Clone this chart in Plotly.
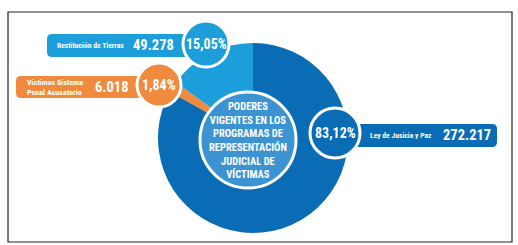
import plotly.graph_objects as go

# ---- data ----
programas = ["Ley de Jusicia y Paz", "Víctimas Sistema Penal Acusatorio", "Restitución de Tierras"]
poderes = [272217, 6018, 49278]
porcentajes = ["83,12%", "1,84%", "15,05%"]
cifras = ["272.217", "6.018", "49.278"]
titulo_centro = ["PODERES", "VIGENTES EN LOS", "PROGRAMAS DE", "REPRESENTACIÓN", "JUDICIAL DE", "VÍCTIMAS"]

W, H = 518, 245
DARK = "#0a6cb4"
LIGHT = "#1b9ed9"
ORANGE = "#ef8a3e"
INNER = "#3b94d1"
colors = [DARK, ORANGE, LIGHT]
FONT = "Roboto Condensed, DejaVu Sans Condensed, sans-serif"


def px(x):
    return x / W


def py(y):
    return 1 - y / H


cx, cy, r = 253, 138, 95

fig = go.Figure()
fig.add_trace(go.Pie(
    labels=programas, values=poderes, sort=False, direction="clockwise",
    rotation=0, textinfo="none", hoverinfo="label+value+percent",
    marker=dict(colors=colors, line=dict(width=0)),
    domain=dict(x=[px(cx - r), px(cx + r)], y=[py(cy + r), py(cy - r)]),
    showlegend=False,
))

shapes = []
annotations = []

# frame
shapes.append(dict(type="rect", xref="paper", yref="paper", x0=px(8), x1=px(512), y0=py(242), y1=py(12),
                   line=dict(color="#222222", width=1.2), fillcolor="rgba(0,0,0,0)", layer="below"))


def rrect(x0, y0, x1, y1, rad, color):
    p = (f"M {px(x0+rad)},{py(y0)} L {px(x1-rad)},{py(y0)} Q {px(x1)},{py(y0)} {px(x1)},{py(y0+rad)} "
         f"L {px(x1)},{py(y1-rad)} Q {px(x1)},{py(y1)} {px(x1-rad)},{py(y1)} "
         f"L {px(x0+rad)},{py(y1)} Q {px(x0)},{py(y1)} {px(x0)},{py(y1-rad)} "
         f"L {px(x0)},{py(y0+rad)} Q {px(x0)},{py(y0)} {px(x0+rad)},{py(y0)} Z")
    return dict(type="path", xref="paper", yref="paper", path=p, fillcolor=color,
                line=dict(width=0), layer="above")


def circ(x, y, rad, color, lw=3):
    return dict(type="circle", xref="paper", yref="paper", x0=px(x - rad), x1=px(x + rad),
                y0=py(y + rad), y1=py(y - rad), fillcolor=color,
                line=dict(color="white", width=lw), layer="above")


def text(x, y, t, size, align="center", xanchor="center"):
    annotations.append(dict(x=px(x), y=py(y), xref="paper", yref="paper", text=t, showarrow=False,
                            font=dict(family=FONT, size=size, color="white", weight="bold"),
                            align=align, xanchor=xanchor, yanchor="middle"))


# inner circle
shapes.append(circ(248, 140, 48, INNER, lw=3))
text(248, 140, "<br>".join(titulo_centro), 10.5)

# label boxes
shapes.append(rrect(47, 34, 195, 57, 5, LIGHT))
shapes.append(rrect(16, 76, 150, 98, 5, ORANGE))
shapes.append(rrect(340, 124, 497, 147, 5, DARK))

# bubbles
shapes.append(circ(206, 44, 23, LIGHT))
shapes.append(circ(159, 85, 22, ORANGE))
shapes.append(circ(335, 133, 25, DARK))

# texts
text(55, 45.5, "Restitución de Tierras", 7.6, xanchor="left")
text(153, 45.5, cifras[2], 14.5)
text(206, 44, porcentajes[2], 14)

text(25, 87, "Víctimas Sistema<br>Penal Acusatorio", 8, align="left", xanchor="left")
text(112, 87, cifras[1], 14.5)
text(159, 85, porcentajes[1], 14)

text(368, 135.5, programas[0], 7.6, xanchor="left")
text(467, 135.5, cifras[0], 14.5)
text(335, 133, porcentajes[0], 14)

fig.update_layout(width=W, height=H, margin=dict(l=0, r=0, t=0, b=0),
                  paper_bgcolor="white", plot_bgcolor="white",
                  shapes=shapes, annotations=annotations)
fig.write_html("out.html", post_script="document.body.style.margin='0';",
               config={"displayModeBar": False})
